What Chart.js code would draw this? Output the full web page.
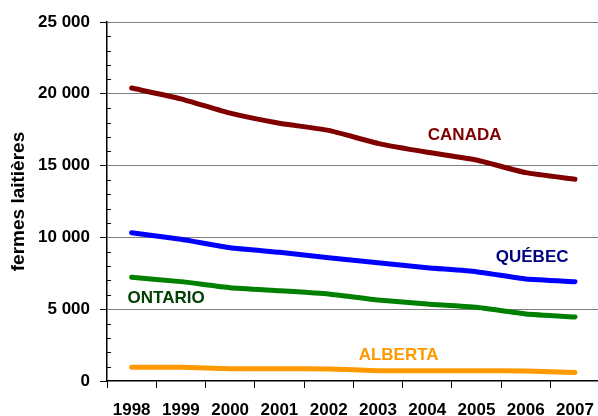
<!DOCTYPE html>
<html>
<head>
<meta charset="utf-8">
<script src="https://cdn.jsdelivr.net/npm/chart.js@4.4.0/dist/chart.umd.min.js"></script>
<style>
  html, body { margin: 0; padding: 0; overflow: hidden; background: #fff; }
</style>
</head>
<body>
<canvas id="fermes" width="606" height="416"></canvas>
<script>
const years = ['1998', '1999', '2000', '2001', '2002', '2003', '2004', '2005', '2006', '2007']
const canada = [20400, 19650, 18650, 17950, 17450, 16550, 15930, 15390, 14510, 14050]
const quebec = [10330, 9870, 9280, 8960, 8590, 8240, 7890, 7610, 7100, 6920]
const ontario = [7220, 6920, 6500, 6290, 6060, 5640, 5360, 5130, 4670, 4460]
const alberta = [950, 960, 860, 860, 835, 720, 720, 720, 700, 600]
const yTicks = [0, 5000, 10000, 15000, 20000, 25000]

const FONT = '"Liberation Sans", Arial, sans-serif'

// nom de chaque série, posé à côté de sa courbe
const seriesLabels = [
  { text: 'CANADA', color: '#800000', at: [6.76, 17100] },
  { text: 'QUÉBEC', color: '#000080', at: [8.13, 8635] },
  { text: 'ONTARIO', color: '#004000', at: [0.70, 5780] },
  { text: 'ALBERTA', color: '#ff9900', at: [5.42, 1776] },
]

function fmt(v) {
  return String(v).replace(/\B(?=(\d{3})+(?!\d))/g, ' ')
}

const isMajor = (v) => yTicks.includes(v)

const extras = {
  id: 'extras',
  afterDraw(chart) {
    const ctx = chart.ctx
    const x = chart.scales.x
    const y = chart.scales.y
    ctx.save()
    // petits tirets intérieurs tous les 1000
    ctx.strokeStyle = '#000'
    ctx.lineWidth = 1
    y.ticks.forEach((t) => {
      if (isMajor(t.value)) return
      const py = Math.round(y.getPixelForValue(t.value)) + 0.5
      ctx.beginPath()
      ctx.moveTo(y.right, py)
      ctx.lineTo(y.right + 4, py)
      ctx.stroke()
    })
    ctx.font = 'bold 17px ' + FONT
    ctx.textAlign = 'center'
    ctx.textBaseline = 'middle'
    seriesLabels.forEach((l) => {
      ctx.fillStyle = l.color
      ctx.fillText(l.text, x.getPixelForValue(l.at[0]), y.getPixelForValue(l.at[1]))
    })
    ctx.restore()
  },
}

function serie(data, color) {
  return {
    data: data,
    borderColor: color,
    backgroundColor: color,
    borderWidth: 5,
    tension: 0.15,
    pointRadius: 0,
    borderCapStyle: 'round',
    borderJoinStyle: 'round',
    fill: false,
  }
}

new Chart(document.getElementById('fermes').getContext('2d'), {
  type: 'line',
  data: {
    labels: years,
    datasets: [
      serie(canada, '#800000'),
      serie(quebec, '#0000ff'),
      serie(ontario, '#008000'),
      serie(alberta, '#ff9900'),
    ],
  },
  plugins: [extras],
  options: {
    responsive: false,
    animation: false,
    layout: { padding: { top: 22, right: 2, left: 0, bottom: 0 } },
    plugins: { legend: { display: false }, tooltip: { enabled: false } },
    scales: {
      x: {
        offset: true,
        afterFit: (s) => { s.height = 35 },
        grid: {
          offset: true,
          drawOnChartArea: false,
          tickLength: 7,
          tickColor: '#000',
          tickWidth: 1,
        },
        border: { color: '#000', width: 1.5 },
        ticks: {
          color: '#000',
          padding: 12,
          maxRotation: 0,
          autoSkip: false,
          font: { family: FONT, size: 17, weight: 'bold' },
        },
      },
      y: {
        min: 0,
        max: 25000,
        afterFit: (s) => { s.width = 107 },
        grid: {
          color: (c) => (c.tick && isMajor(c.tick.value) && c.tick.value > 0 ? '#808080' : 'rgba(0,0,0,0)'),
          tickColor: (c) => (c.tick && isMajor(c.tick.value) ? '#000' : 'rgba(0,0,0,0)'),
          tickLength: 7,
          lineWidth: 1,
        },
        border: { color: '#000', width: 1.5 },
        ticks: {
          stepSize: 1000,
          autoSkip: false,
          color: '#000',
          padding: 10,
          font: { family: FONT, size: 17, weight: 'bold' },
          callback: (v) => (isMajor(v) ? fmt(v) : ''),
        },
        title: {
          display: true,
          text: 'fermes laitières',
          color: '#000',
          padding: { top: 7, bottom: 0 },
          font: { family: FONT, size: 19, weight: 'bold' },
        },
      },
    },
  },
})
</script>
</body>
</html>
